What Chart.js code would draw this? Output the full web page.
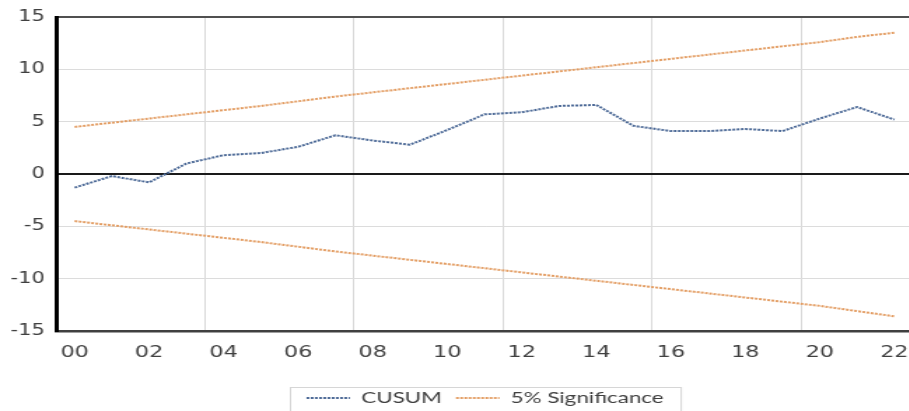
<!DOCTYPE html>
<html>
<head>
<meta charset="utf-8">
<title>CUSUM</title>
<script src="https://cdn.jsdelivr.net/npm/chart.js@4.4.0/dist/chart.umd.min.js"></script>
<style>
  html, body { margin: 0; padding: 0; overflow: hidden; background: #fff; }
  #wrap { width: 909px; height: 411px; overflow: hidden; }
  /* the source picture is stretched sideways, so the chart is drawn narrow and widened */
  #stretch { width: 661px; height: 416px; transform: scaleX(1.4); transform-origin: 0 0; }
</style>
</head>
<body>
<div id="wrap"><div id="stretch"><canvas id="cusumChart" width="661" height="416"></canvas></div></div>
<script>
// years 2000 - 2022, shown as two digits
const years = ['00', '01', '02', '03', '04', '05', '06', '07', '08', '09', '10', '11',
               '12', '13', '14', '15', '16', '17', '18', '19', '20', '21', '22'];

const cusum = [-1.3, -0.2, -0.8, 1.0, 1.8, 2.0, 2.6, 3.7, 3.2, 2.8, 4.2, 5.7,
               5.9, 6.5, 6.6, 4.6, 4.1, 4.1, 4.3, 4.1, 5.3, 6.4, 5.2];

const upperBound = [4.5, 4.9, 5.3, 5.7, 6.1, 6.5, 6.95, 7.4, 7.8, 8.2, 8.6, 9.0,
                    9.4, 9.8, 10.2, 10.6, 11.0, 11.4, 11.8, 12.2, 12.6, 13.1, 13.5];
const lowerBound = [-4.5, -4.9, -5.3, -5.7, -6.1, -6.5, -6.95, -7.4, -7.8, -8.2, -8.6, -9.0,
                    -9.4, -9.8, -10.2, -10.6, -11.0, -11.4, -11.8, -12.2, -12.6, -13.1, -13.6];

const seriesNames = ['CUSUM', '5% Significance'];

const blue = '#4d6a97';
const orange = '#e39d63';

// legend sits a little right of centre in the source, with a thin grey frame
const legendFrame = {
    id: 'legendFrame',
    afterLayout(chart) {
        chart.legend.left += 16;
        chart.legend.right += 16;
    },
    afterDraw(chart) {
        const boxes = chart.legend.legendHitBoxes;
        if (!boxes || !boxes.length) return;
        const left = Math.min(...boxes.map(b => b.left)) - 12;
        const right = Math.max(...boxes.map(b => b.left + b.width)) + 12;
        const top = chart.legend.top + 7;
        const ctx = chart.ctx;
        ctx.save();
        ctx.strokeStyle = '#d6d6d6';
        ctx.lineWidth = 1;
        ctx.strokeRect(Math.round(left) + 0.5, Math.round(top) + 0.5, right - left, chart.height);
        ctx.restore();
    }
};

new Chart(document.getElementById('cusumChart'), {
    type: 'line',
    data: {
        labels: years,
        datasets: [
            {
                label: seriesNames[0],
                data: cusum,
                borderColor: blue,
                backgroundColor: blue,
                borderWidth: 2,
                borderDash: [2, 1],
                pointRadius: 0,
            },
            {
                label: seriesNames[1],
                data: upperBound,
                borderColor: orange,
                backgroundColor: orange,
                borderWidth: 2,
                borderDash: [2, 1],
                pointRadius: 0,
            },
            {
                label: seriesNames[1],
                data: lowerBound,
                borderColor: orange,
                backgroundColor: orange,
                borderWidth: 2,
                borderDash: [2, 1],
                pointRadius: 0,
            },
        ],
    },
    options: {
        responsive: false,
        animation: false,
        devicePixelRatio: 1,
        layout: { padding: { top: 17, left: 0, right: 0, bottom: 0 } },
        plugins: {
            tooltip: { enabled: false },
            legend: {
                position: 'bottom',
                labels: {
                    boxWidth: 31,
                    boxHeight: 0,
                    padding: 10,
                    color: '#404040',
                    font: { family: 'Lato', size: 16 },
                    filter: item => item.datasetIndex !== 2,
                },
            },
        },
        scales: {
            x: {
                type: 'category',
                offset: true,
                afterFit: scale => { scale.height = 49; },
                grid: {
                    offset: true,
                    drawTicks: false,
                    lineWidth: 1,
                    color: ctx => (ctx.index > 0 && ctx.index % 4 === 0) ? '#d9d9d9' : 'rgba(0,0,0,0)',
                },
                border: { color: '#404040', width: 2.5 },
                ticks: {
                    autoSkip: false,
                    maxRotation: 0,
                    padding: 12,
                    color: '#404040',
                    font: { family: 'DejaVu Sans', size: 16 },
                    callback: function (value, index) {
                        return index % 2 === 0 ? this.getLabelForValue(value) : '';
                    },
                },
            },
            y: {
                min: -15,
                max: 15,
                afterFit: scale => { scale.width = 40; },
                grid: {
                    drawTicks: false,
                    color: ctx => {
                        const v = ctx.tick && ctx.tick.value;
                        if (v === 0) return '#1a1a1a';
                        if (v === 15) return '#505050';
                        if (v === -15) return 'rgba(0,0,0,0)';
                        return '#dcdcdc';
                    },
                    lineWidth: ctx => {
                        const v = ctx.tick && ctx.tick.value;
                        return (v === 0 || v === 15) ? 2 : 1;
                    },
                },
                border: { color: '#000000', width: 3 },
                ticks: {
                    stepSize: 5,
                    padding: 8,
                    color: '#404040',
                    font: { family: 'DejaVu Sans', size: 15 },
                },
            },
        },
    },
    plugins: [legendFrame],
});
</script>
</body>
</html>
